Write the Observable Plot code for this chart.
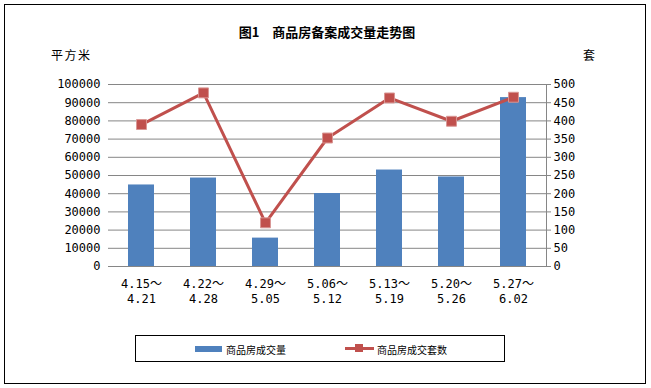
<!DOCTYPE html>
<html>
<head>
<meta charset="utf-8">
<script src="https://cdn.jsdelivr.net/npm/d3@7"></script>
<script src="https://cdn.jsdelivr.net/npm/@observablehq/plot@0.6"></script>
<style>
  html, body { margin: 0; padding: 0; background: #fff; }
  #wrap { position: relative; width: 651px; height: 388px; overflow: hidden; font-family: "Noto Sans CJK SC", sans-serif; }
  #border { position: absolute; left: 4px; top: 4px; width: 640px; height: 378px; border: 1px solid #000; }
  #chart { position: absolute; left: 0; top: 0; }
  .lbl { position: absolute; color: #000; white-space: nowrap; }
  #title { left: 0; width: 654px; text-align: center; top: 22px; font-size: 13px; font-weight: bold; }
  #ylab { left: 51px; top: 46px; font-size: 12px; letter-spacing: 1.5px; }
  #y2lab { left: 583px; top: 46px; font-size: 12px; }
  #legend { position: absolute; left: 135px; top: 335px; width: 368px; height: 25px; border: 1px solid #000; }
  .sw { position: absolute; }
  .lt { position: absolute; font-size: 10px; top: 6px; color: #000; }
</style>
</head>
<body>
<div id="wrap">
  <div id="border"></div>
  <div id="chart"></div>
  <div class="lbl" id="title">图1　商品房备案成交量走势图</div>
  <div class="lbl" id="ylab">平方米</div>
  <div class="lbl" id="y2lab">套</div>
  <div id="legend">
    <div class="sw" style="left:59px;top:10px;width:27px;height:6px;background:#4F81BD"></div>
    <div class="lt" style="left:90px">商品房成交量</div>
    <div class="sw" style="left:209px;top:11px;width:29px;height:3px;background:#C0504D"></div>
    <div class="sw" style="left:219px;top:8px;width:8px;height:8px;background:#C0504D"></div>
    <div class="lt" style="left:241px">商品房成交套数</div>
  </div>
</div>
<script>
const categories = ["4.15～\n4.21", "4.22～\n4.28", "4.29～\n5.05", "5.06～\n5.12", "5.13～\n5.19", "5.20～\n5.26", "5.27～\n6.02"];
const areaValues = [44800, 48600, 15600, 40100, 53000, 49200, 92800];
const unitValues = [390, 477, 120, 353, 463, 399, 465];
const leftTicks = [0, 10000, 20000, 30000, 40000, 50000, 60000, 70000, 80000, 90000, 100000];
const rightTicks = [0, 50, 100, 150, 200, 250, 300, 350, 400, 450, 500];

const ratio = 100000 / 500;
const data = categories.map((c, i) => ({cat: c, area: areaValues[i], units: unitValues[i], unitsScaled: unitValues[i] * ratio}));

const tickFont = {fontFamily: "'DejaVu Sans Mono', 'Noto Sans CJK SC', monospace", fontSize: 12};

const chart = Plot.plot({
  width: 651,
  height: 388,
  marginLeft: 108,
  marginRight: 105,
  marginTop: 84,
  marginBottom: 122,
  style: {background: "transparent", color: "#000", overflow: "visible"},
  x: {domain: categories, paddingInner: 0.58, paddingOuter: 0.29, axis: null, label: null},
  y: {domain: [0, 100000], axis: null, label: null},
  marks: [
    Plot.gridY(leftTicks, {stroke: "#868686", strokeOpacity: 1, strokeWidth: 1}),
    Plot.barY(data, {x: "cat", y: "area", fill: "#4F81BD"}),
    Plot.line(data, {x: "cat", y: "unitsScaled", stroke: "#C0504D", strokeWidth: 3}),
    Plot.dot(data, {x: "cat", y: "unitsScaled", symbol: "square", r: 5.6, fill: "#C0504D", stroke: "#D99694", strokeWidth: 1}),
    Plot.frame({anchor: "right", stroke: "#868686", strokeOpacity: 1}),
    Plot.axisY(leftTicks, {anchor: "left", tickSize: 0, tickPadding: 8, label: null, tickFormat: d => String(d), ...tickFont}),
    Plot.axisY(rightTicks.map(v => v * ratio), {anchor: "right", tickSize: 4, tickPadding: 3, label: null, stroke: "#868686", tickFormat: d => String(Math.round(d / ratio)), ...tickFont}),
    Plot.axisX(categories, {anchor: "bottom", tickSize: 0, tickPadding: 11, label: null, lineHeight: 1.25, ...tickFont})
  ]
});
document.getElementById("chart").appendChild(chart);
</script>
</body>
</html>
